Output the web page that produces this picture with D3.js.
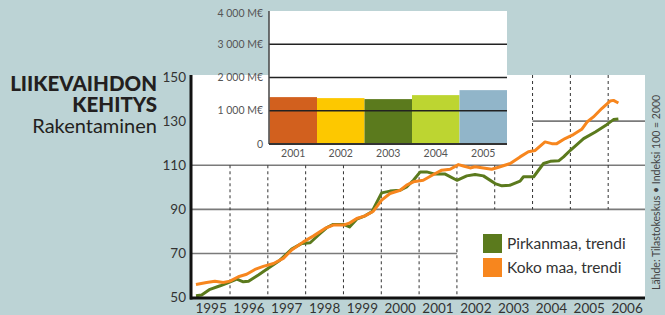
<!DOCTYPE html>
<html>
<head>
<meta charset="utf-8">
<script src="https://cdn.jsdelivr.net/npm/d3@7"></script>
<style>
  html, body { margin: 0; padding: 0; background: #bcd3d5; }
  svg { display: block; font-family: Lato, 'Open Sans', sans-serif; }
</style>
</head>
<body>
<div id="chart"></div>
<script>
// inset: revenue by year
const barYears = ['2001', '2002', '2003', '2004', '2005'];
const revenue = [1410, 1380, 1350, 1470, 1620];
const barColors = ['#d2601e', '#fdc800', '#5b7a1d', '#bdd531', '#91b5c9'];
const barTicks = [0, 1000, 2000, 3000, 4000];
const barTickLabels = ['0', '1 000 M€', '2 000 M€', '3 000 M€', '4 000 M€'];

// index series (trend), [decimal year, index]
const pirkanmaa = [
  [1995.10, 50.9], [1995.25, 51.2], [1995.47, 53.8], [1995.74, 55.4], [1995.91, 56.5],
  [1996.18, 58.4], [1996.35, 57.2], [1996.49, 57.5], [1996.75, 60.3], [1997.01, 63.3],
  [1997.32, 67.0], [1997.63, 72.0], [1997.90, 74.6], [1998.12, 74.9], [1998.34, 78.4],
  [1998.56, 81.8], [1998.73, 83.2], [1999.00, 83.2], [1999.16, 82.1], [1999.35, 85.6],
  [1999.57, 87.1], [1999.75, 88.9], [2000.01, 97.5], [2000.23, 98.3], [2000.50, 98.7],
  [2000.67, 100.2], [2000.85, 103.2], [2001.03, 107.0], [2001.20, 107.0], [2001.42, 106.0],
  [2001.69, 106.0], [2002.00, 103.2], [2002.26, 105.2], [2002.48, 105.8], [2002.70, 105.2],
  [2003.01, 101.7], [2003.19, 100.7], [2003.41, 101.0], [2003.67, 102.8], [2003.76, 104.8],
  [2004.03, 104.8], [2004.29, 110.8], [2004.47, 111.8], [2004.69, 112.0], [2004.82, 113.8],
  [2005.00, 116.8], [2005.35, 122.1], [2005.66, 125.1], [2005.96, 128.4], [2006.14, 130.7],
  [2006.27, 131.0]
];
const kokoMaa = [
  [1995.10, 56.0], [1995.38, 56.9], [1995.60, 57.5], [1995.82, 56.9], [1996.00, 57.5],
  [1996.22, 59.5], [1996.44, 60.6], [1996.66, 62.8], [1996.88, 64.2], [1997.15, 65.5],
  [1997.41, 67.8], [1997.63, 71.6], [1997.94, 75.3], [1998.20, 77.9], [1998.51, 81.4],
  [1998.73, 82.9], [1999.00, 82.9], [1999.17, 83.9], [1999.35, 85.9], [1999.57, 87.1],
  [1999.79, 89.2], [2000.01, 94.2], [2000.23, 97.2], [2000.50, 98.7], [2000.67, 101.0],
  [2000.85, 102.5], [2001.11, 103.2], [2001.38, 105.8], [2001.60, 107.8], [2001.82, 108.2],
  [2002.04, 110.3], [2002.17, 109.7], [2002.35, 108.8], [2002.48, 109.3], [2002.70, 108.8],
  [2002.92, 108.2], [2003.10, 109.1], [2003.41, 110.8], [2003.67, 113.8], [2003.89, 116.1],
  [2004.07, 116.7], [2004.33, 120.6], [2004.51, 119.8], [2004.64, 119.8], [2004.86, 122.1],
  [2005.08, 123.9], [2005.30, 126.3], [2005.44, 129.6], [2005.61, 131.9], [2005.83, 135.7],
  [2006.05, 139.1], [2006.14, 139.4], [2006.27, 138.2]
];
const xYears = d3.range(1995, 2007);
const yTicks = [50, 70, 90, 110, 130, 150];
const seriesNames = ['Pirkanmaa, trendi', 'Koko maa, trendi'];
const seriesColors = ['#5b7a1d', '#f7861e'];

function draw() {
  const width = 665, height = 315;
  const svg = d3.select('#chart').append('svg')
    .attr('width', width)
    .attr('height', height);

  const x = d3.scaleLinear().domain([1995, 2007]).range([192.2, 646]);
  const y = d3.scaleLinear().domain([50, 150]).range([297.7, 77]);

  const plotL = 192, plotR = 645, plotT = 75, plotB = 298;

  // white areas
  svg.append('rect')
    .attr('x', plotL).attr('y', plotT)
    .attr('width', plotR - plotL).attr('height', plotB - plotT)
    .attr('fill', '#fff');

  const bx = d3.scaleBand().domain(barYears).range([269.5, 507]).padding(0);
  const by = d3.scaleLinear().domain([0, 4000]).range([144, 11]);

  svg.append('rect')
    .attr('x', 269).attr('y', 11)
    .attr('width', 507 - 269).attr('height', 150 - 11)
    .attr('fill', '#fff');

  // main grid: horizontal lines (some cut short)
  const hLines = [
    { v: 130, from: 2004, to: 2007 },
    { v: 110, from: 1995, to: 2007 },
    { v: 90, from: 1995, to: 2007 },
    { v: 70, from: 1995, to: 2002 }
  ];
  svg.append('g').selectAll('line')
    .data(hLines)
    .enter().append('line')
    .attr('x1', d => d.from === 1995 ? plotL : x(d.from))
    .attr('x2', d => d.to === 2007 ? plotR : x(d.to))
    .attr('y1', d => y(d.v)).attr('y2', d => y(d.v))
    .attr('stroke', '#7a7a7a')
    .attr('stroke-width', 1.6);

  // year boundaries, dashed (under the inset they start at 110, next to legend they stop at 90)
  svg.append('g').selectAll('line')
    .data(d3.range(1996, 2007))
    .enter().append('line')
    .attr('x1', d => x(d)).attr('x2', d => x(d))
    .attr('y1', d => x(d) < 507 ? y(110) : plotT)
    .attr('y2', d => d >= 2003 ? y(90) : plotB)
    .attr('stroke', '#333')
    .attr('stroke-width', 1)
    .attr('stroke-dasharray', '3,3');

  // inset bars
  const inset = svg.append('g');
  inset.selectAll('rect')
    .data(revenue)
    .enter().append('rect')
    .attr('x', (d, i) => bx(barYears[i]))
    .attr('y', d => by(d))
    .attr('width', bx.bandwidth())
    .attr('height', d => by(0) - by(d))
    .attr('fill', (d, i) => barColors[i]);

  inset.selectAll('line.grid')
    .data([1000, 2000, 3000])
    .enter().append('line')
    .attr('class', 'grid')
    .attr('x1', 269).attr('x2', 507)
    .attr('y1', d => by(d)).attr('y2', d => by(d))
    .attr('stroke', '#222')
    .attr('stroke-width', 1.3);

  inset.append('line')
    .attr('x1', 269).attr('x2', 269)
    .attr('y1', by(4000)).attr('y2', by(0))
    .attr('stroke', '#444').attr('stroke-width', 1.5);
  inset.append('line')
    .attr('x1', 269).attr('x2', 507)
    .attr('y1', by(0)).attr('y2', by(0))
    .attr('stroke', '#333').attr('stroke-width', 2);

  inset.selectAll('text.ytick')
    .data(barTicks)
    .enter().append('text')
    .attr('class', 'ytick')
    .attr('x', 263)
    .attr('y', d => by(d) + (d === 4000 ? 2 : 0))
    .attr('dy', '0.35em')
    .attr('text-anchor', 'end')
    .attr('font-size', 10.5)
    .attr('fill', '#555')
    .text((d, i) => barTickLabels[i]);

  inset.selectAll('text.xtick')
    .data(barYears)
    .enter().append('text')
    .attr('class', 'xtick')
    .attr('x', d => bx(d) + bx.bandwidth() / 2)
    .attr('y', 153)
    .attr('dy', '0.35em')
    .attr('text-anchor', 'middle')
    .attr('font-size', 10.5)
    .attr('fill', '#555')
    .text(d => d);

  // lines
  const line = d3.line().x(d => x(d[0])).y(d => y(d[1]));
  [pirkanmaa, kokoMaa].forEach((s, i) => {
    svg.append('path')
      .datum(s)
      .attr('d', line)
      .attr('fill', 'none')
      .attr('stroke', seriesColors[i])
      .attr('stroke-width', 3)
      .attr('stroke-linejoin', 'round');
  });

  // axes
  svg.append('line')
    .attr('x1', 191).attr('x2', 191)
    .attr('y1', plotT).attr('y2', plotB + 1.5)
    .attr('stroke', '#111').attr('stroke-width', 3);
  svg.append('line')
    .attr('x1', 190).attr('x2', plotR)
    .attr('y1', plotB).attr('y2', plotB)
    .attr('stroke', '#111').attr('stroke-width', 3);

  svg.append('g').selectAll('text')
    .data(yTicks)
    .enter().append('text')
    .attr('x', 186)
    .attr('y', d => y(d))
    .attr('dy', '0.35em')
    .attr('text-anchor', 'end')
    .attr('font-size', 13.5)
    .attr('fill', '#333')
    .text(d => d);

  svg.append('g').selectAll('text')
    .data(xYears)
    .enter().append('text')
    .attr('x', d => x(d + 0.5))
    .attr('y', 308)
    .attr('dy', '0.35em')
    .attr('text-anchor', 'middle')
    .attr('font-size', 13.5)
    .attr('fill', '#333')
    .text(d => d);

  // legend
  const legend = svg.append('g');
  seriesNames.forEach((name, i) => {
    legend.append('rect')
      .attr('x', 483).attr('y', 234 + i * 24)
      .attr('width', 19).attr('height', 19)
      .attr('fill', seriesColors[i]);
    legend.append('text')
      .attr('x', 507).attr('y', 243.5 + i * 24)
      .attr('dy', '0.35em')
      .attr('font-size', 15.5)
      .attr('fill', '#333')
      .text(name);
  });

  // title
  const title = svg.append('g').attr('text-anchor', 'end').attr('fill', '#231f20');
  title.append('text')
    .attr('x', 157).attr('y', 91)
    .attr('font-size', 20.5).attr('font-weight', 900)
    .text('LIIKEVAIHDON');
  title.append('text')
    .attr('x', 157).attr('y', 112)
    .attr('font-size', 20.5).attr('font-weight', 900)
    .text('KEHITYS');
  title.append('text')
    .attr('x', 157).attr('y', 133)
    .attr('font-size', 20).attr('font-weight', 400)
    .text('Rakentaminen');

  // source, rotated
  svg.append('text')
    .attr('transform', 'translate(656,290) rotate(-90)')
    .attr('font-size', 10.5)
    .attr('fill', '#444')
    .attr('dy', '0.35em')
    .text('Lähde: Tilastokeskus • Indeksi 100 = 2000');
}

window.onload = function () {
  draw();
};
</script>
</body>
</html>
